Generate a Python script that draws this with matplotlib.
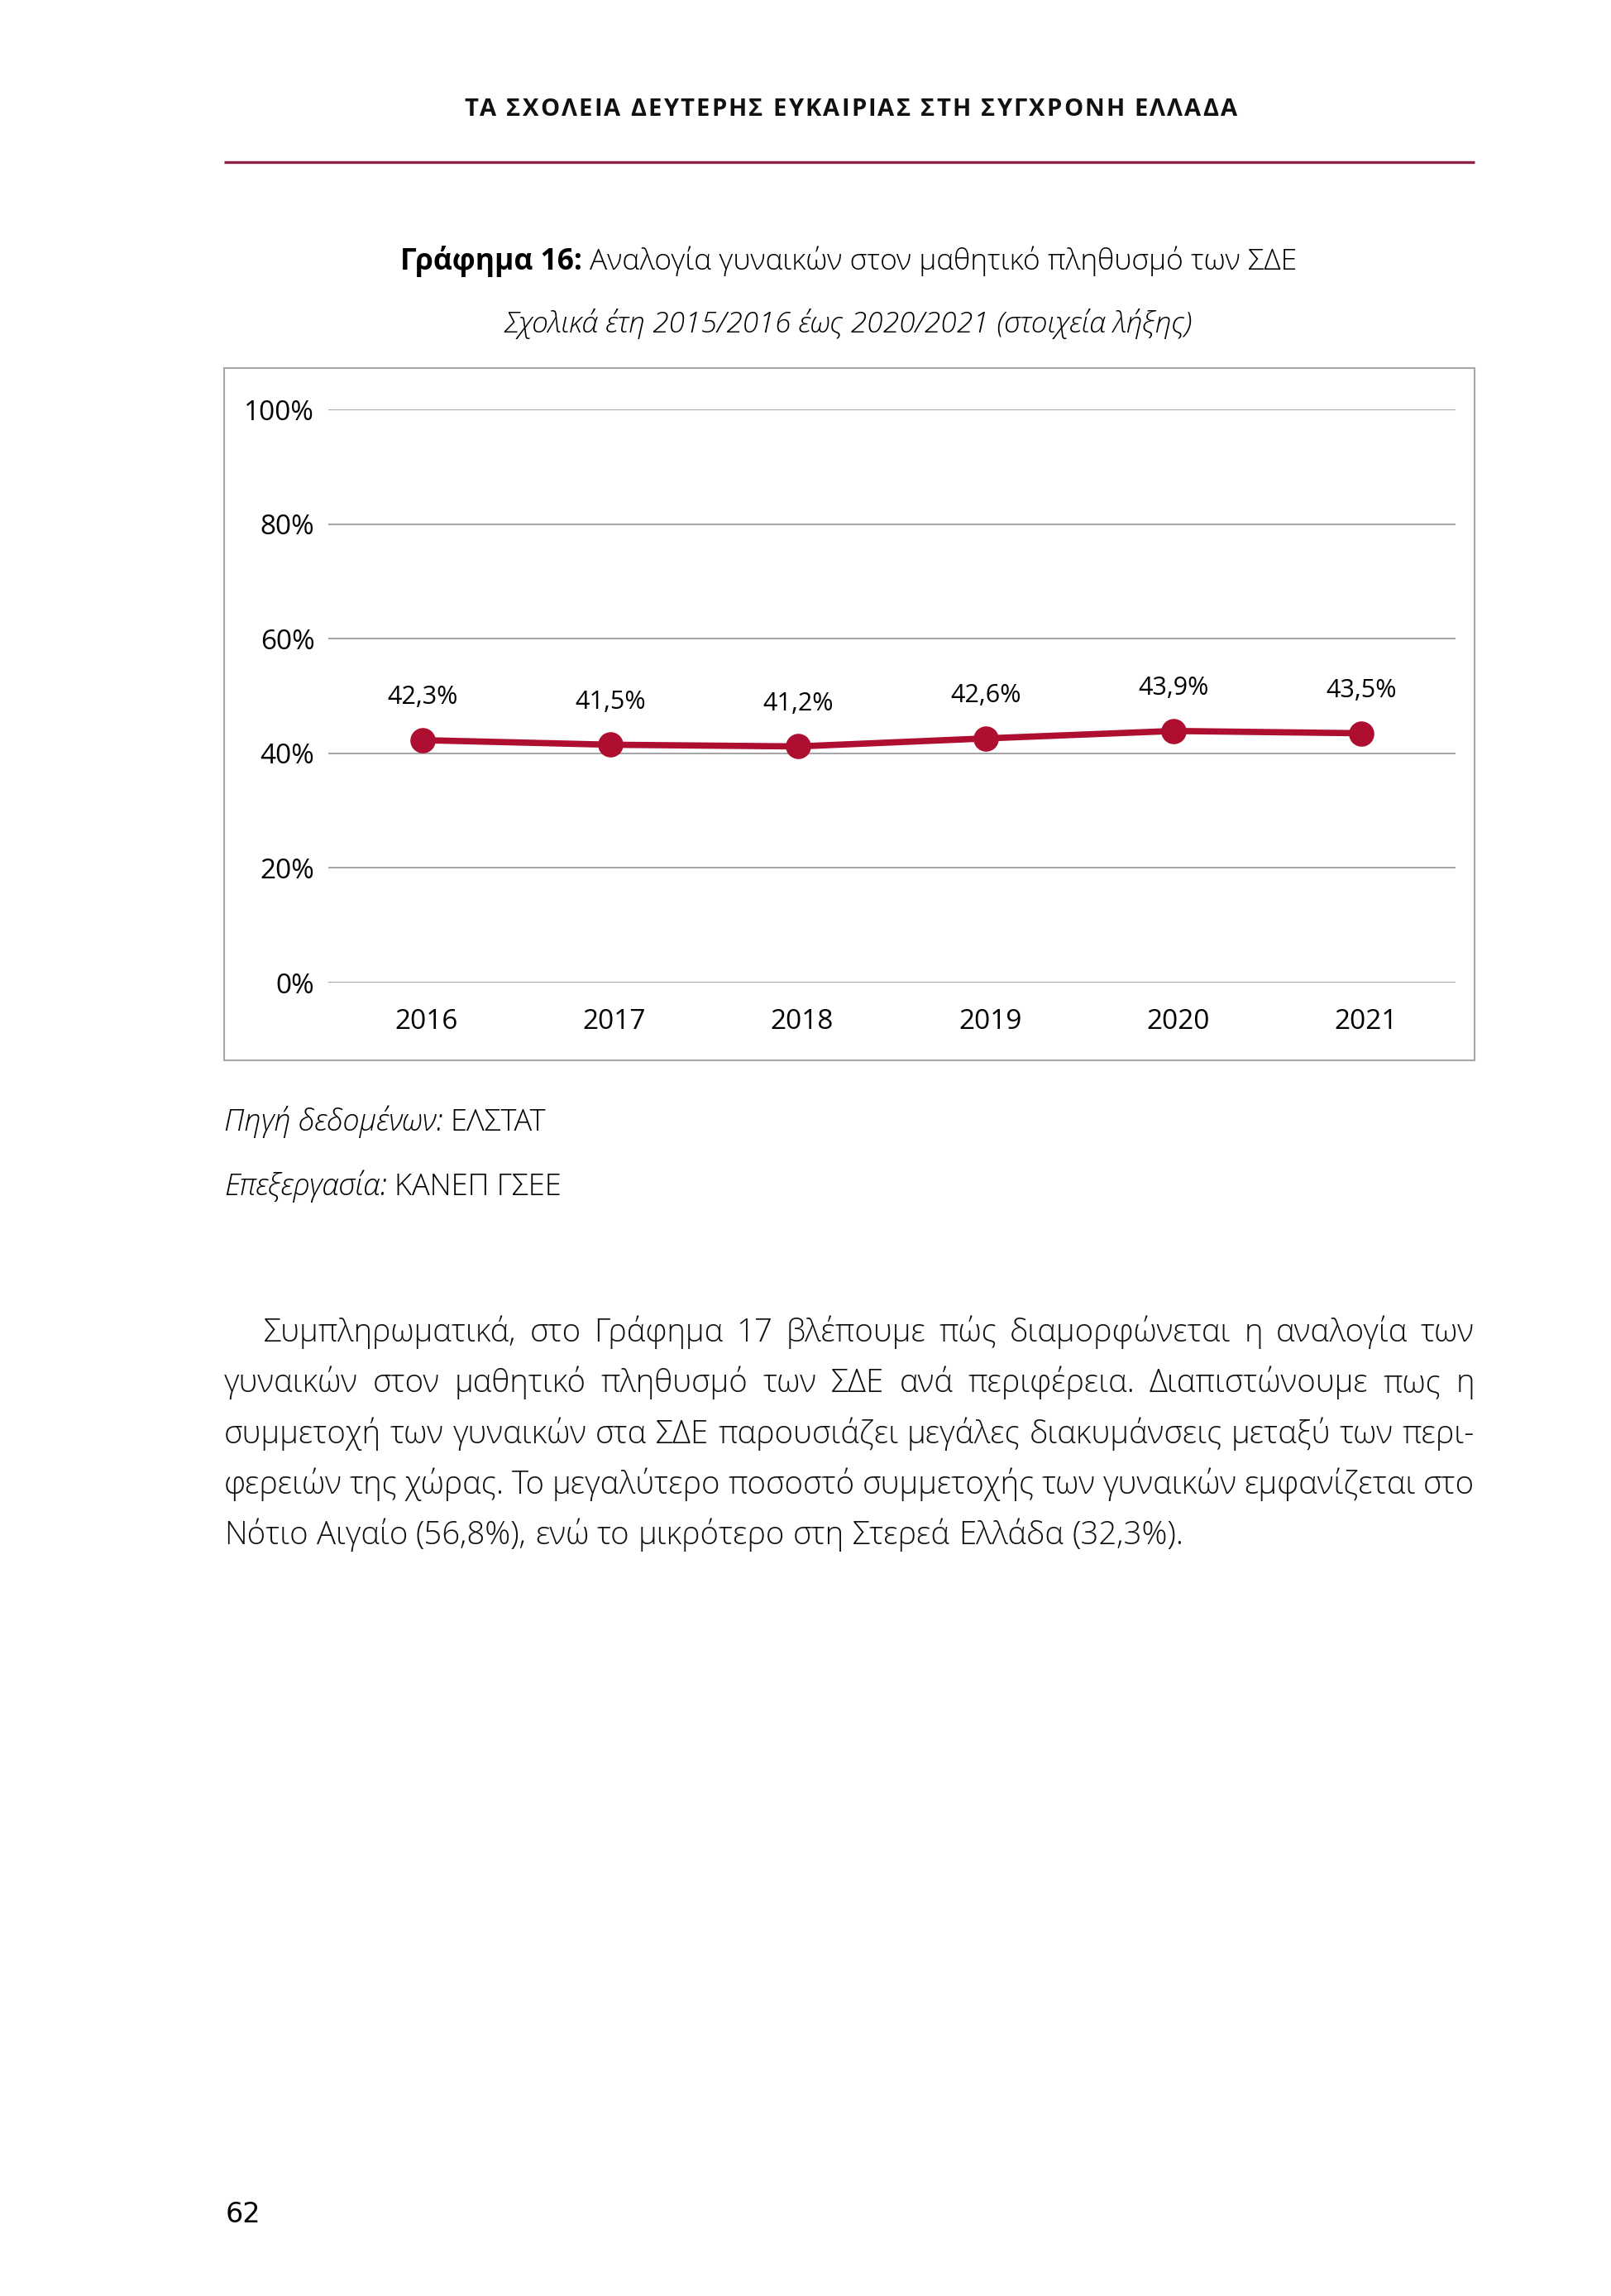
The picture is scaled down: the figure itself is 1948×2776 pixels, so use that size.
import numpy as np
import matplotlib
matplotlib.use("Agg")
import matplotlib.pyplot as plt
import matplotlib.transforms as mtransforms
from matplotlib.patches import Rectangle

plt.rcParams['font.family'] = ['Open Sans', 'DejaVu Sans']

# data
years = ['2016', '2017', '2018', '2019', '2020', '2021']
share = [42.3, 41.5, 41.2, 42.6, 43.9, 43.5]
y_ticks = [0, 20, 40, 60, 80, 100]

header = "ΤΑ ΣΧΟΛΕΙΑ ΔΕΥΤΕΡΗΣ ΕΥΚΑΙΡΙΑΣ ΣΤΗ ΣΥΓΧΡΟΝΗ ΕΛΛΑΔΑ"
title_bold = "Γράφημα 16:"
title_rest = "Αναλογία γυναικών στον μαθητικό πληθυσμό των ΣΔΕ"
subtitle = "Σχολικά έτη 2015/2016 έως 2020/2021 (στοιχεία λήξης)"
source = [("Πηγή δεδομένων:", "ΕΛΣΤΑΤ"), ("Επεξεργασία:", "ΚΑΝΕΠ ΓΣΕΕ")]
body = [
    "Συμπληρωματικά, στο Γράφημα 17 βλέπουμε πώς διαμορφώνεται η αναλογία των",
    "γυναικών στον μαθητικό πληθυσμό των ΣΔΕ ανά περιφέρεια. Διαπιστώνουμε πως η",
    "συμμετοχή των γυναικών στα ΣΔΕ παρουσιάζει μεγάλες διακυμάνσεις μεταξύ των περι-",
    "φερειών της χώρας. Το μεγαλύτερο ποσοστό συμμετοχής των γυναικών εμφανίζεται στο",
    "Νότιο Αιγαίο (56,8%), ενώ το μικρότερο στη Στερεά Ελλάδα (32,3%).",
]
page_no = "62"

RED = '#AE0F30'
GRID = '#A6A6A6'

W, H = 1949, 2776
fig = plt.figure(figsize=(W / 100, H / 100), dpi=100)
bg = fig.add_axes([0, 0, 1, 1])
bg.set_xlim(0, W)
bg.set_ylim(H, 0)
bg.axis('off')
rend = fig.canvas.get_renderer()


def wid(t):
    return t.get_window_extent(rend).width


def space_w(**kw):
    a = bg.text(0, 0, "a a", **kw)
    b = bg.text(0, 0, "aa", **kw)
    s = wid(a) - wid(b)
    a.remove()
    b.remove()
    return s


def put_runs(x, y, parts, ha='left'):
    # parts: list of (text, kwargs); joined with one space
    ts = [bg.text(0, y, s, va='baseline', **kw) for s, kw in parts]
    sp = [space_w(**kw) for s, kw in parts]
    total = sum(wid(t) for t in ts) + sum(sp[1:])
    cx = x - total / 2 if ha == 'center' else x
    for i, t in enumerate(ts):
        if i > 0:
            cx += sp[i]
        t.set_x(cx)
        cx += wid(t)


# header, letter-spaced
hx0, hx1, hy = 561, 1496, 140
hk = dict(fontsize=21, fontweight='bold', va='baseline', color='#111111')
chars = [bg.text(0, hy, c, **hk) for c in header]
hsp = space_w(**hk)
cw = [hsp if c == ' ' else wid(t) for c, t in zip(header, chars)]
track = (hx1 - hx0 - sum(cw)) / (len(header) - 1)
cx = hx0
for t, w in zip(chars, cw):
    t.set_x(cx)
    cx += w + track
bg.plot([271, 1783], [196, 196], color='#8E2243', lw=2.4, solid_capstyle='butt')

# titles
put_runs(1026, 326, [(title_bold, dict(fontsize=25.5, fontweight='bold')),
                     (title_rest, dict(fontsize=25.5, fontweight='light'))], ha='center')
put_runs(1026, 402, [(subtitle, dict(fontsize=25.5, style='italic', fontweight='light'))], ha='center')

# chart frame
bg.add_patch(Rectangle((271, 445), 1783 - 271, 1282 - 445, fill=False, ec=GRID, lw=1.5))

ax = fig.add_axes([397 / W, 1 - 1188 / H, 1363 / W, 693 / H])
ax.set_facecolor('none')
x = np.arange(len(years))
ax.plot(x, share, color=RED, lw=5.5, marker='o', ms=21, clip_on=False, zorder=3)
for xi, v in zip(x, share):
    ax.annotate(f"{v:.1f}%".replace('.', ','), (xi, v), xytext=(0, 37),
                textcoords='offset points', ha='center', va='center', fontsize=22)
ax.set_xlim(-0.5, len(years) - 0.5)
ax.set_ylim(0, 100)
ax.set_yticks(y_ticks)
ax.set_yticklabels([f"{v}%" for v in y_ticks])
ax.set_xticks(x)
ax.set_xticklabels(years)
ax.grid(axis='y', color=GRID, lw=1.5)
ax.set_axisbelow(True)
for s in ax.spines.values():
    s.set_visible(False)
ax.tick_params(axis='y', length=0, pad=12, labelsize=24)
ax.tick_params(axis='x', length=0, pad=22, labelsize=24)
shift = mtransforms.ScaledTranslation(5 / 100, 0, fig.dpi_scale_trans)
for lbl in ax.get_xticklabels():
    lbl.set_transform(lbl.get_transform() + shift)

# source lines
for (a, b), yy in zip(source, [1367, 1445]):
    put_runs(271, yy, [(a, dict(fontsize=26, style='italic', fontweight='light')),
                       (b, dict(fontsize=26, fontweight='light'))])

# justified paragraph
bk = dict(fontsize=27.6, fontweight='light', va='baseline', color='#111111')
left, right, indent = 271, 1783, 48
bsp = space_w(**bk)
y0, dy = 1622, 61.3
for i, line in enumerate(body):
    words = line.split(' ')
    ts = [bg.text(0, y0 + i * dy, w, **bk) for w in words]
    ws = [wid(t) for t in ts]
    x0 = left + (indent if i == 0 else 0)
    if i < len(body) - 1:
        gap = (right - x0 - sum(ws)) / (len(words) - 1)
    else:
        gap = bsp
    cx = x0
    for t, w in zip(ts, ws):
        t.set_x(cx)
        cx += w + gap

bg.text(273, 2687, page_no, fontsize=24, va='baseline', family='DejaVu Sans')

fig.savefig("out.png", dpi=100)
